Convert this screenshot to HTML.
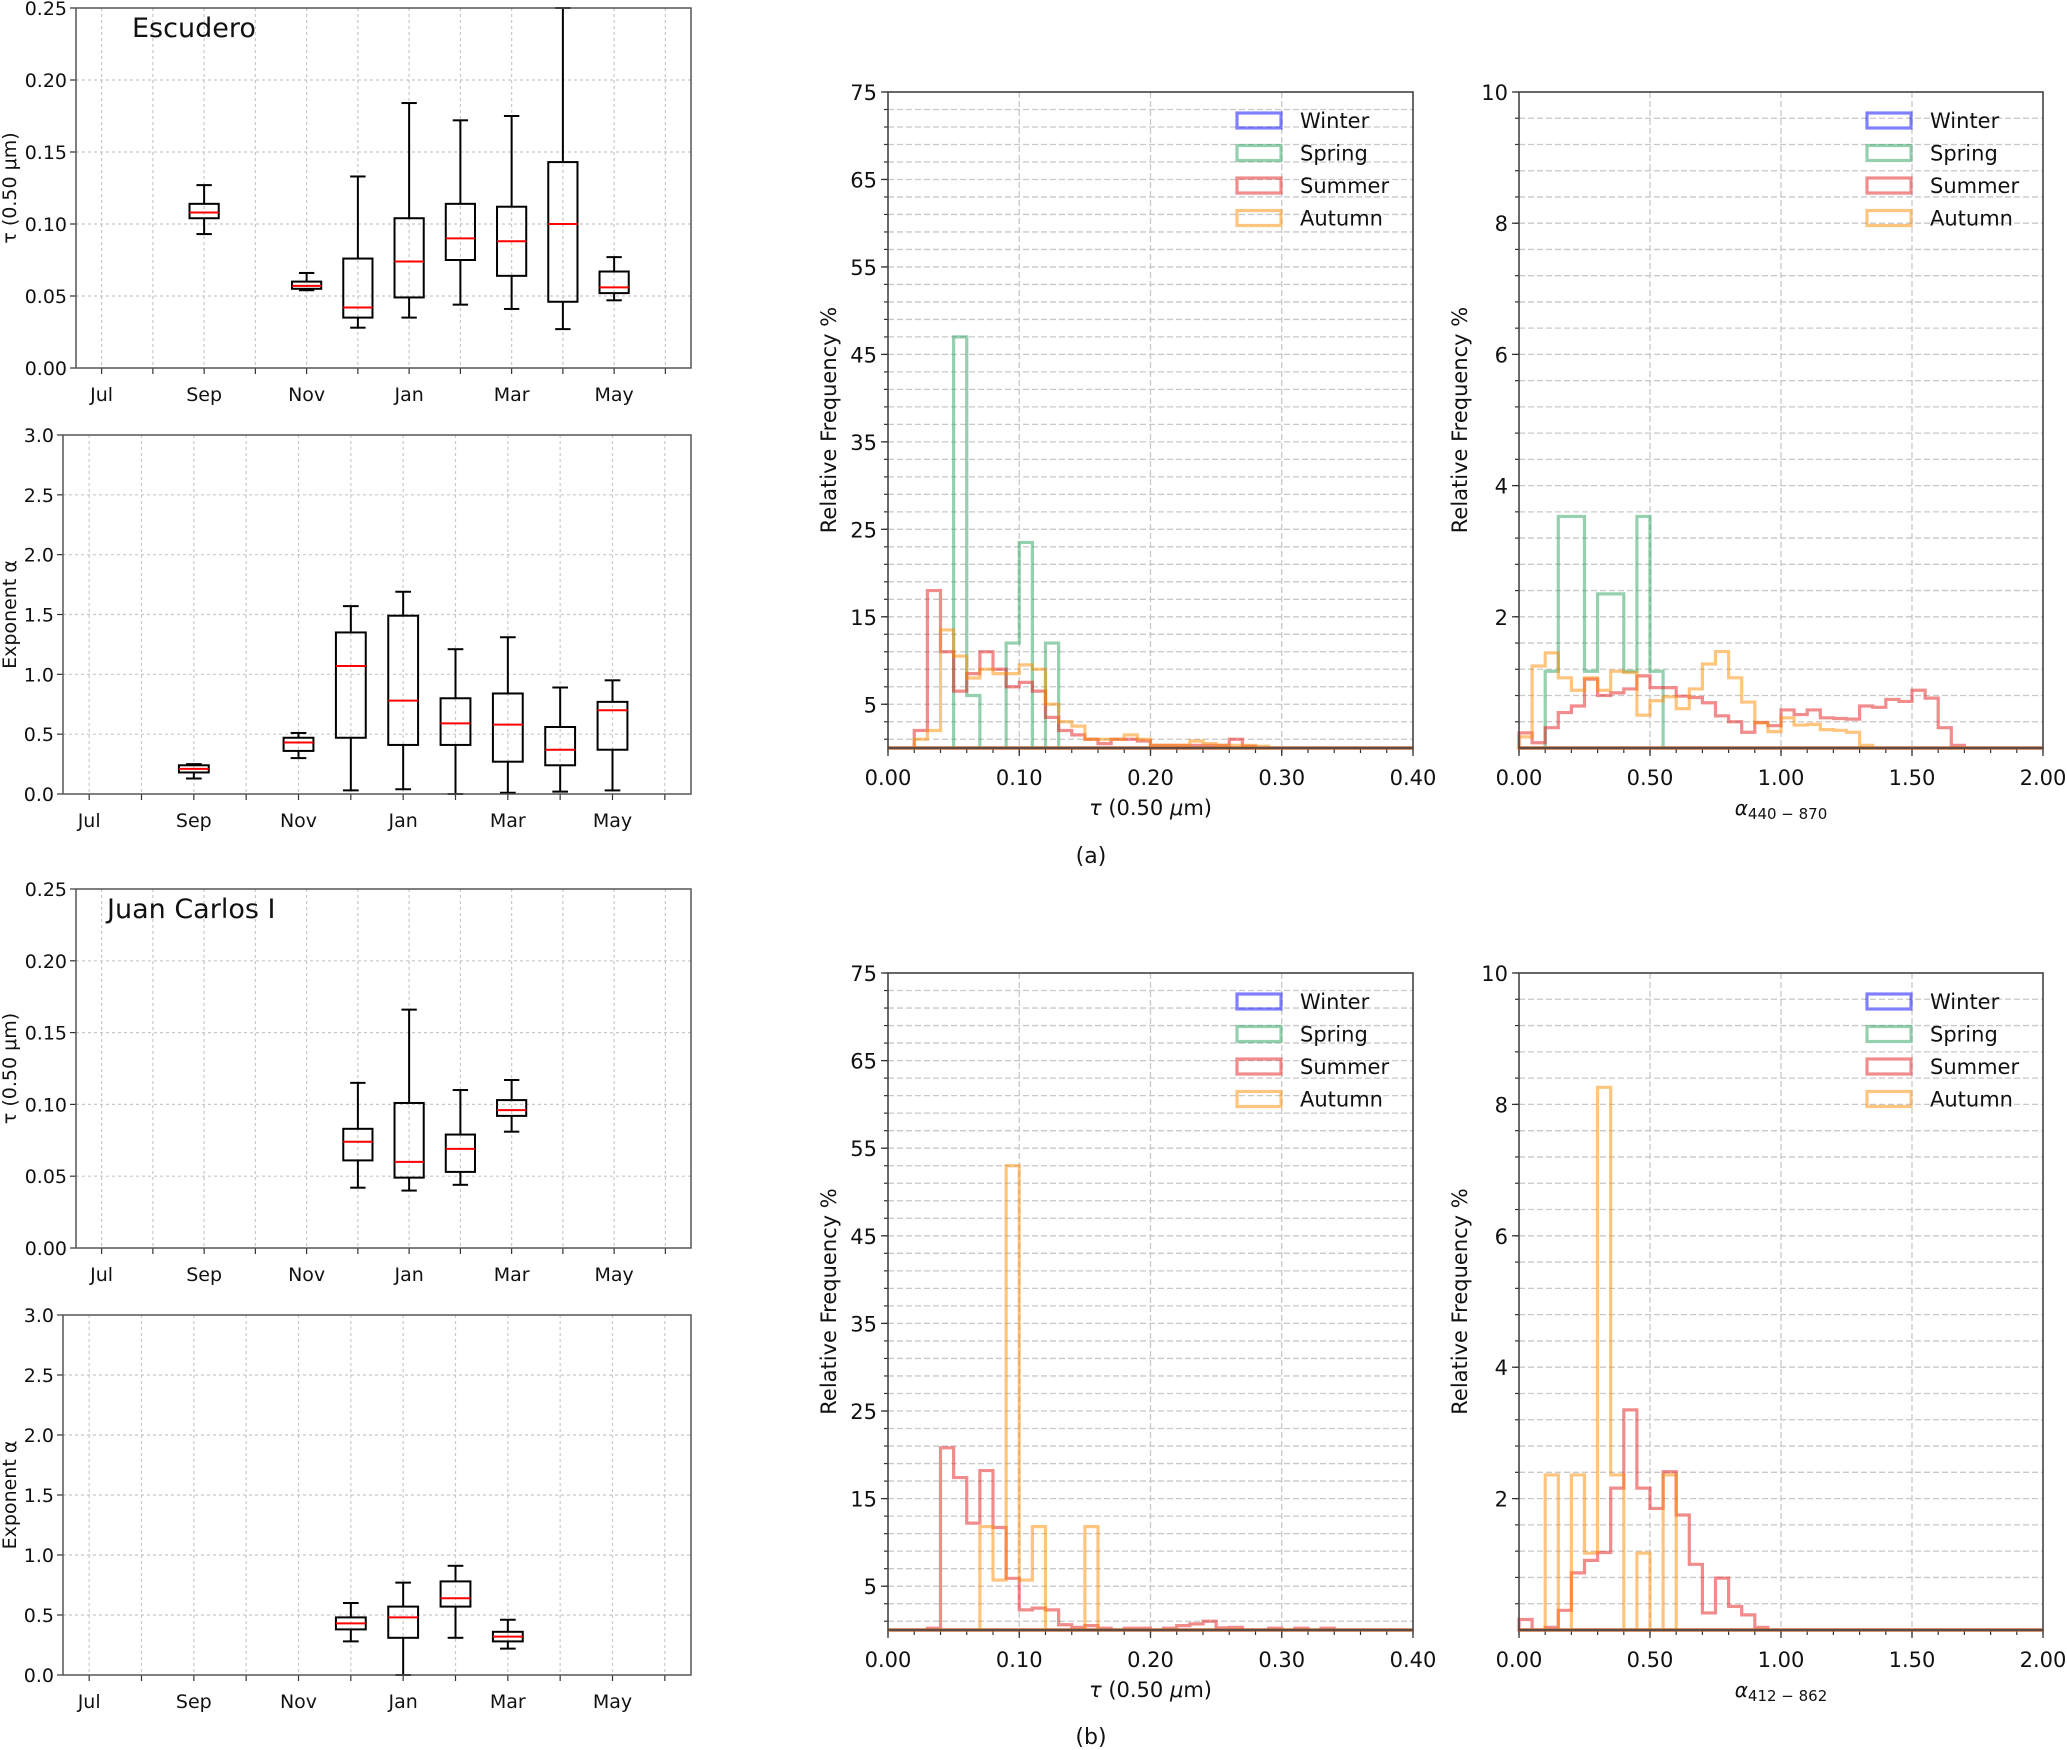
<!DOCTYPE html>
<html><head><meta charset="utf-8">
<style>
html,body{margin:0;padding:0;background:#fff;}
svg{display:block;font-family:"DejaVu Sans","Liberation Sans",sans-serif;}
</style></head>
<body>
<svg id="fig" width="2067" height="1750" viewBox="0 0 2067 1750" xmlns="http://www.w3.org/2000/svg"></svg>
<script>
// ---------- Box plot data (month index: Jul=0 ... Jun=11) ----------
const monthLabels = ["Jul","Sep","Nov","Jan","Mar","May"];
const escTauMonths = [2,4,5,6,7,8,9,10];
const escTauLow  = [0.093,0.054,0.028,0.035,0.044,0.041,0.027,0.047];
const escTauQ1   = [0.104,0.055,0.035,0.049,0.075,0.064,0.046,0.052];
const escTauMed  = [0.108,0.057,0.042,0.074,0.090,0.088,0.100,0.056];
const escTauQ3   = [0.114,0.060,0.076,0.104,0.114,0.112,0.143,0.067];
const escTauHigh = [0.127,0.066,0.133,0.184,0.172,0.175,0.250,0.077];

const escAlpMonths = [2,4,5,6,7,8,9,10];
const escAlpLow  = [0.13,0.30,0.03,0.04,0.00,0.01,0.02,0.03];
const escAlpQ1   = [0.18,0.36,0.47,0.41,0.41,0.27,0.24,0.37];
const escAlpMed  = [0.21,0.43,1.07,0.78,0.59,0.58,0.37,0.70];
const escAlpQ3   = [0.24,0.47,1.35,1.49,0.80,0.84,0.56,0.77];
const escAlpHigh = [0.25,0.51,1.57,1.69,1.21,1.31,0.89,0.95];

const jcTauMonths = [5,6,7,8];
const jcTauLow  = [0.042,0.040,0.044,0.081];
const jcTauQ1   = [0.061,0.049,0.053,0.092];
const jcTauMed  = [0.074,0.060,0.069,0.096];
const jcTauQ3   = [0.083,0.101,0.079,0.103];
const jcTauHigh = [0.115,0.166,0.110,0.117];

const jcAlpMonths = [5,6,7,8];
const jcAlpLow  = [0.28,0.00,0.31,0.22];
const jcAlpQ1   = [0.38,0.31,0.57,0.28];
const jcAlpMed  = [0.43,0.48,0.64,0.32];
const jcAlpQ3   = [0.48,0.57,0.78,0.36];
const jcAlpHigh = [0.60,0.77,0.91,0.46];

// ---------- Histogram data ----------
const seasons = ["Winter","Spring","Summer","Autumn"];
const aTauSpring = [0,0,0,0,0,47,6,0,0,12,23.5,0,12,0,0,0,0,0,0,0,0,0,0,0,0,0,0,0,0,0,0,0,0,0,0,0,0,0,0,0];
const aTauSummer = [0,0,2,18,11,6.5,8.5,11,9,7,7.5,6.5,3.5,2,1.5,1,0.5,1,1,0.8,0.3,0.3,0.3,0.3,0.3,0.3,1,0.2,0,0,0,0,0,0,0,0,0,0,0,0];
const aTauAutumn = [0,0,1,2,13.5,10.5,8,9,8.5,8.5,9.5,9,5,3,2.5,1,1,1,1.5,1,0.3,0.3,0.3,0.8,0.5,0.3,0.3,0.3,0.2,0,0,0,0,0,0,0,0,0,0,0];
const aAlpSpring = [0,0,1.17,3.53,3.53,1.17,2.35,2.35,1.17,3.53,1.17,0,0,0,0,0,0,0,0,0,0,0,0,0,0,0,0,0,0,0,0,0,0,0,0,0,0,0,0,0];
const aAlpSummer = [0.23,0.08,0.31,0.54,0.64,1.05,0.8,0.84,0.9,1.1,0.92,0.92,0.79,0.77,0.69,0.49,0.40,0.24,0.39,0.34,0.58,0.51,0.58,0.46,0.45,0.44,0.64,0.62,0.74,0.71,0.88,0.76,0.31,0.04,0,0,0,0,0,0];
const aAlpAutumn = [0.17,1.25,1.45,1.07,0.88,1.07,0.88,1.17,1.15,0.5,0.72,0.78,0.6,0.9,1.28,1.47,1.07,0.7,0.38,0.25,0.46,0.35,0.36,0.28,0.27,0.24,0.04,0,0,0,0,0,0,0,0,0,0,0,0,0];
const bTauSummer = [0,0,0,0.2,20.8,17.4,12.2,18.2,11.7,5.9,2.3,2.5,2.3,0.6,0.3,0.5,0.2,0,0.2,0.2,0,0.2,0.5,0.7,1.0,0.25,0.3,0,0,0.2,0,0.2,0,0.2,0,0,0,0,0,0];
const bTauAutumn = [0,0,0,0,0,0,0,11.8,5.7,53,5.7,11.8,0,0,0,11.8,0,0,0,0,0,0,0,0,0,0,0,0,0,0,0,0,0,0,0,0,0,0,0,0];
const bAlpSummer = [0.16,0,0.04,0.3,0.87,1.06,1.18,2.16,3.35,2.16,1.85,2.41,1.75,1.0,0.26,0.79,0.36,0.23,0.04,0,0,0,0,0,0,0,0,0,0,0,0,0,0,0,0,0,0,0,0,0];
const bAlpAutumn = [0,0,2.36,0,2.36,1.17,8.26,2.36,0,1.17,0,2.36,0,0,0,0,0,0,0,0,0,0,0,0,0,0,0,0,0,0,0,0,0,0,0,0,0,0,0,0];

const tauYTicks = ["5","15","25","35","45","55","65","75"];
const alpYTicks = ["2","4","6","8","10"];
const tauXTicks = ["0.00","0.10","0.20","0.30","0.40"];
const alpXTicks = ["0.00","0.50","1.00","1.50","2.00"];

// ---------- helpers ----------
const NS = "http://www.w3.org/2000/svg";
const svg = document.getElementById("fig");
function mk(tag, attrs, parent, text){
  const e = document.createElementNS(NS, tag);
  for (const k in attrs) e.setAttribute(k, attrs[k]);
  if (text !== undefined) e.textContent = text;
  (parent||svg).appendChild(e);
  return e;
}
function group(name, parent){
  const g = mk("g", {}, parent);
  
  
  return g;
}

function boxPanel(name, x0, y0, x1, y1, ymax, yTickVals, yFmt, ylab, months, lo, q1, med, q3, hi, title, titleDx){
  const g = group(name);
  const xs = m => x0 + (m + 0.5) / 12 * (x1 - x0);
  const ys = v => y1 - v / ymax * (y1 - y0);
  for (let m = 0; m < 12; m++){
    const gl = mk("line", {x1:xs(m), x2:xs(m), y1:y0, y2:y1, stroke:"#c8c8c8", "stroke-width":1.2, "stroke-dasharray":"3,3"}, g);
    
    
    mk("line", {x1:xs(m), x2:xs(m), y1:y1, y2:y1+6, stroke:"#333", "stroke-width":1.2}, g);
  }
  yTickVals.forEach(v => {
    if (v > 0 && v < ymax){
      const gl = mk("line", {x1:x0, x2:x1, y1:ys(v), y2:ys(v), stroke:"#c8c8c8", "stroke-width":1.2, "stroke-dasharray":"3,3"}, g);
      
      
    }
    mk("line", {x1:x0-6, x2:x0, y1:ys(v), y2:ys(v), stroke:"#333", "stroke-width":1.2}, g);
    const t = mk("text", {x:x0-9, y:ys(v)+7, "text-anchor":"end", "font-size":19, fill:"#111"}, g, yFmt(v));
    
    
  });
  monthLabels.forEach((lab, i) => {
    const t = mk("text", {x:xs(i*2), y:y1+33, "text-anchor":"middle", "font-size":19, fill:"#111"}, g, lab);
    
    
  });
  const bw = 0.57 * (x1 - x0) / 12, cw = 0.3 * (x1 - x0) / 12;
  months.forEach((m, i) => {
    const bg = mk("g", {}, g);
    
    
    const cx = xs(m);
    const st = {stroke:"#000", "stroke-width":2, fill:"none"};
    mk("line", Object.assign({x1:cx, x2:cx, y1:ys(hi[i]), y2:ys(q3[i])}, st), bg);
    mk("line", Object.assign({x1:cx, x2:cx, y1:ys(q1[i]), y2:ys(lo[i])}, st), bg);
    mk("line", Object.assign({x1:cx-cw/2, x2:cx+cw/2, y1:ys(hi[i]), y2:ys(hi[i])}, st), bg);
    mk("line", Object.assign({x1:cx-cw/2, x2:cx+cw/2, y1:ys(lo[i]), y2:ys(lo[i])}, st), bg);
    mk("rect", Object.assign({x:cx-bw/2, y:ys(q3[i]), width:bw, height:ys(q1[i])-ys(q3[i])}, st), bg);
    mk("line", {x1:cx-bw/2, x2:cx+bw/2, y1:ys(med[i]), y2:ys(med[i]), stroke:"#ff0000", "stroke-width":2}, bg);
  });
  const fr = mk("rect", {x:x0, y:y0, width:x1-x0, height:y1-y0, fill:"none", stroke:"#555", "stroke-width":1.5}, g);
  
  
  const yl = mk("text", {x:0, y:0, transform:`translate(16,${(y0+y1)/2}) rotate(-90)`, "text-anchor":"middle", "font-size":19, fill:"#111"}, g, ylab);
  
  
  if (title){
    const tt = mk("text", {x:x0+titleDx, y:y0+29, "font-size":27, fill:"#111"}, g, title);
    
    
  }
}

const colors = {Winter:"#0000ff", Spring:"#2ca25f", Summer:"#e41a1c", Autumn:"#ff8c00"};

function stepPath(vals, xs, ys, nb){
  let d = `M${xs(0)},${ys(0)}`;
  for (let i = 0; i < nb; i++){
    d += ` L${xs(i)},${ys(vals[i])} L${xs(i+1)},${ys(vals[i])}`;
  }
  d += ` L${xs(nb)},${ys(0)} Z`;
  return d;
}

function histPanel(name, x0, y0, x1, y1, xmax, xMinorStep, xLabels, ymax, yMajorStart, yMajorStep, yMinorStep, yLabels, series, xlabHtml){
  const g = group(name);
  const nb = 40, bwv = xmax / nb;
  const xv = v => x0 + v / xmax * (x1 - x0);
  const ys = v => y1 - v / ymax * (y1 - y0);
  for (let v = yMajorStart - Math.floor(yMajorStart / yMinorStep) * yMinorStep; v <= ymax + 1e-9; v += yMinorStep){
    if (v <= 1e-9) continue;
    const gl = mk("line", {x1:x0, x2:x1, y1:ys(v), y2:ys(v), stroke:"#c8c8c8", "stroke-width":1.3, "stroke-dasharray":"6,3"}, g);
    
    
    mk("line", {x1:x0-4, x2:x0, y1:ys(v), y2:ys(v), stroke:"#333", "stroke-width":1.2}, g);
  }
  yLabels.forEach((lab, i) => {
    const v = yMajorStart + i * yMajorStep;
    mk("line", {x1:x0-7, x2:x0, y1:ys(v), y2:ys(v), stroke:"#333", "stroke-width":1.3}, g);
    const t = mk("text", {x:x0-11, y:ys(v)+8, "text-anchor":"end", "font-size":21, fill:"#111"}, g, lab);
    
    
  });
  for (let v = 0; v <= xmax + 1e-9; v += xMinorStep){
    mk("line", {x1:xv(v), x2:xv(v), y1:y1, y2:y1+5, stroke:"#333", "stroke-width":1.2}, g);
  }
  xLabels.forEach((lab, i) => {
    const v = i * xmax / (xLabels.length - 1);
    if (i > 0 && i < xLabels.length - 1){
      const gl = mk("line", {x1:xv(v), x2:xv(v), y1:y0, y2:y1, stroke:"#c8c8c8", "stroke-width":1.3, "stroke-dasharray":"6,3"}, g);
      
      
    }
    mk("line", {x1:xv(v), x2:xv(v), y1:y1, y2:y1+8, stroke:"#333", "stroke-width":1.3}, g);
    const t = mk("text", {x:xv(v), y:y1+37, "text-anchor":"middle", "font-size":21, fill:"#111"}, g, lab);
    
    
  });
  const xs = i => xv(i * bwv);
  series.forEach(s => {
    const p = mk("path", {d:stepPath(s.vals, xs, ys, nb), fill:"none", stroke:colors[s.name], "stroke-opacity":0.5, "stroke-width":3.2, "stroke-linejoin":"miter"}, g);
    
    
  });
  const fr = mk("rect", {x:x0, y:y0, width:x1-x0, height:y1-y0, fill:"none", stroke:"#444", "stroke-width":1.6}, g);
  
  
  const lg = mk("g", {}, g);
  
  
  seasons.forEach((s, i) => {
    const ly = y0 + 28 + i * 32.5;
    const le = mk("g", {}, lg);
    
    
    mk("rect", {x:x1-176, y:ly-7, width:44, height:15, fill:"none", stroke:colors[s], "stroke-opacity":0.5, "stroke-width":3.2}, le);
    mk("text", {x:x1-113, y:ly+8, "font-size":21, fill:"#111"}, le, s);
  });
  const yl = mk("text", {x:0, y:0, transform:`translate(${x0-52},${(y0+y1)/2}) rotate(-90)`, "text-anchor":"middle", "font-size":21, fill:"#111"}, g, "Relative Frequency %");
  
  
  const xl = mk("text", {x:(x0+x1)/2, y:y1+67, "text-anchor":"middle", "font-size":xlabHtml.sub ? 20 : 21, fill:"#111"}, g);
  
  
  if (xlabHtml.sub){
    mk("tspan", {"font-style":"italic"}, xl, "α");
    mk("tspan", {"font-size":15, dy:4}, xl, xlabHtml.sub);
  } else {
    mk("tspan", {"font-style":"italic"}, xl, "τ");
    mk("tspan", {}, xl, " (0.50 ");
    mk("tspan", {"font-style":"italic"}, xl, "μ");
    mk("tspan", {}, xl, "m)");
  }
}

const f2 = v => v.toFixed(2), f1 = v => v.toFixed(1);
const tauBoxTicks = [0,0.05,0.10,0.15,0.20,0.25];
const alpBoxTicks = [0,0.5,1.0,1.5,2.0,2.5,3.0];

boxPanel("escudero-tau-boxplot", 76, 8, 691, 368, 0.25, tauBoxTicks, f2, "τ (0.50 μm)", escTauMonths, escTauLow, escTauQ1, escTauMed, escTauQ3, escTauHigh, "Escudero", 56);
boxPanel("escudero-alpha-boxplot", 63, 435, 691, 794, 3.0, alpBoxTicks, f1, "Exponent α", escAlpMonths, escAlpLow, escAlpQ1, escAlpMed, escAlpQ3, escAlpHigh, null, 0);
boxPanel("jc-tau-boxplot", 76, 889, 691, 1248, 0.25, tauBoxTicks, f2, "τ (0.50 μm)", jcTauMonths, jcTauLow, jcTauQ1, jcTauMed, jcTauQ3, jcTauHigh, "Juan Carlos I", 31);
boxPanel("jc-alpha-boxplot", 63, 1315, 691, 1675, 3.0, alpBoxTicks, f1, "Exponent α", jcAlpMonths, jcAlpLow, jcAlpQ1, jcAlpMed, jcAlpQ3, jcAlpHigh, null, 0);

const zeros = new Array(40).fill(0);
histPanel("hist-a-tau", 888, 92, 1413, 748, 0.40, 0.02, tauXTicks, 75, 5, 10, 2, tauYTicks,
  [{name:"Winter", vals:zeros},{name:"Spring", vals:aTauSpring},{name:"Summer", vals:aTauSummer},{name:"Autumn", vals:aTauAutumn}], {});
histPanel("hist-a-alpha", 1519, 92, 2043, 748, 2.0, 0.1, alpXTicks, 10, 2, 2, 0.4, alpYTicks,
  [{name:"Winter", vals:zeros},{name:"Spring", vals:aAlpSpring},{name:"Summer", vals:aAlpSummer},{name:"Autumn", vals:aAlpAutumn}], {sub:"440 − 870"});
histPanel("hist-b-tau", 888, 973, 1413, 1630, 0.40, 0.02, tauXTicks, 75, 5, 10, 2, tauYTicks,
  [{name:"Winter", vals:zeros},{name:"Spring", vals:zeros},{name:"Summer", vals:bTauSummer},{name:"Autumn", vals:bTauAutumn}], {});
histPanel("hist-b-alpha", 1519, 973, 2043, 1630, 2.0, 0.1, alpXTicks, 10, 2, 2, 0.4, alpYTicks,
  [{name:"Winter", vals:zeros},{name:"Spring", vals:zeros},{name:"Summer", vals:bAlpSummer},{name:"Autumn", vals:bAlpAutumn}], {sub:"412 − 862"});

const la = mk("text", {x:1091, y:863, "text-anchor":"middle", "font-size":22, fill:"#111"}, svg, "(a)");


const lb = mk("text", {x:1091, y:1744, "text-anchor":"middle", "font-size":22, fill:"#111"}, svg, "(b)");


</script>
</body></html>
